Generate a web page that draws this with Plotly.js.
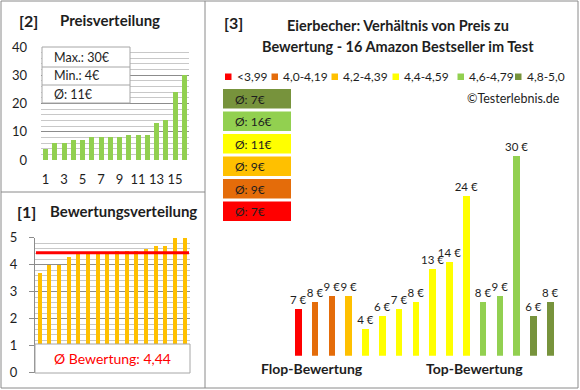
<!DOCTYPE html>
<html><head><meta charset="utf-8">
<script src="https://cdn.plot.ly/plotly-3.0.1.min.js"></script>
<style>html,body{margin:0;padding:0;background:#fff}</style>
</head><body><div id="chart" style="width:580px;height:390px"></div>
<script>
// ---- data ----
const ratings = [3.7,4.0,4.0,4.3,4.4,4.4,4.4,4.4,4.5,4.5,4.5,4.6,4.7,4.7,5.0,5.0];
const prices = [7,8,9,9,4,6,7,8,13,14,24,8,9,30,6,8];
const sortedPrices = [4,6,6,7,7,8,8,8,8,9,9,9,13,14,24,30];
const priceTickVals = [1,3,5,7,9,11,13,15];
const barClass = [0,1,1,2,3,3,3,3,3,3,3,4,4,4,5,5];
const classLabels = ['<3,99','4,0-4,19','4,2-4,39','4,4-4,59','4,6-4,79','4,8-5,0'];
const classColors = ['#FF0000','#E46C0A','#FFC000','#FFFF00','#92D050','#77933C'];
const classAvgPrice = [7,9,9,11,16,7];
const titleLine1 = 'Eierbecher: Verhältnis von Preis zu';
const titleLine2 = 'Bewertung - 16 Amazon Bestseller im Test';

// ---- helpers ----
const W=580,H=390;
const X = p=>p/W, Y = p=>1-p/H;
const FONT = 'Lato, "Open Sans", sans-serif';
const TXT = '#1e1e1e';
const idx = ratings.map((_,i)=>i+1);
const maxP = Math.max(...sortedPrices), minP = Math.min(...sortedPrices);
const avgP = Math.round(sortedPrices.reduce((a,b)=>a+b,0)/sortedPrices.length);
const avgR = ratings.reduce((a,b)=>a+b,0)/ratings.length;
const avgRtxt = avgR.toFixed(2).replace('.',',');

const traces = [
  {type:'bar', x:idx, y:sortedPrices, xaxis:'x', yaxis:'y', width:0.55,
   marker:{color:'#92D050'}, hoverinfo:'skip'},
  {type:'bar', x:idx, y:ratings, xaxis:'x2', yaxis:'y2', width:0.42,
   marker:{color:'#FFC000'}, hoverinfo:'skip'},
  {type:'bar', x:idx, y:prices, xaxis:'x3', yaxis:'y3', width:0.4,
   marker:{color:barClass.map(c=>classColors[c])},
   text:prices.map(v=>v+' €'), textposition:'outside', constraintext:'none',
   cliponaxis:false, textfont:{family:FONT, size:11.5, color:TXT}, hoverinfo:'skip'}
];

const shapes = [];
const ann = [];
const line = (x0,y0,x1,y1,c,w)=>shapes.push({type:'line',xref:'paper',yref:'paper',x0:X(x0),y0:Y(y0),x1:X(x1),y1:Y(y1),line:{color:c,width:w}});
const rect = (x0,y0,x1,y1,fill,lc,lw)=>shapes.push({type:'rect',xref:'paper',yref:'paper',x0:X(x0),y0:Y(y1),x1:X(x1),y1:Y(y0),fillcolor:fill,line:{color:lc,width:lw}});
const text = (t,x,y,opt={})=>ann.push(Object.assign({text:t,x:X(x),y:Y(y),xref:'paper',yref:'paper',showarrow:false,
   xanchor:'left',yanchor:'middle',font:{family:FONT,size:13,color:TXT}},opt));

// panel borders
rect(1,1,578,388,'rgba(0,0,0,0)','#8a8a8a',1);
line(205,1,205,388,'#8a8a8a',1);
line(1,192,205,192,'#8a8a8a',1);

// price box
rect(42,47,130,103,'#ffffff','#a6a6a6',1);
line(42,67,130,67,'#a6a6a6',1);
line(42,85,130,85,'#a6a6a6',1);
text('Max.: '+maxP+'€',52,57.5,{font:{family:FONT,size:12.5,color:TXT}});
text('Min.: '+minP+'€',52,76,{font:{family:FONT,size:12.5,color:TXT}});
text('Ø: '+avgP+'€',52,94,{font:{family:FONT,size:12.5,color:TXT}});

// red avg line + rating box
shapes.push({type:'line',xref:'x2',yref:'y2',x0:0.62,x1:16.45,y0:avgR,y1:avgR,line:{color:'#FF0000',width:3}});
rect(35,344,190,373,'#ffffff','#a6a6a6',1);
text('Ø Bewertung: '+avgRtxt,112,358,{xanchor:'center',font:{family:FONT,size:14,color:'#FF0000'}});

// panel titles
text('<b>[2]</b>',17,20,{font:{family:FONT,size:16,color:TXT}});
text('<b>Preisverteilung</b>',58,20,{font:{family:FONT,size:15,color:TXT}});
text('<b>[1]</b>',15,211,{font:{family:FONT,size:16,color:TXT}});
text('<b>Bewertungsverteilung</b>',48,211,{font:{family:FONT,size:15,color:TXT}});
text('<b>[3]</b>',222,22,{font:{family:FONT,size:16,color:TXT}});
text('<b>'+titleLine1+'</b>',398,26,{xanchor:'center',font:{family:FONT,size:14.5,color:TXT}});
text('<b>'+titleLine2+'</b>',398,46,{xanchor:'center',font:{family:FONT,size:14.5,color:TXT}});

// legend
const legSq = [225,271.5,331.5,392.5,457.5,515];
classLabels.forEach((l,i)=>{
  rect(legSq[i],73.5,legSq[i]+6.5,80,classColors[i],classColors[i],0);
  text(l,legSq[i]+9.5,77,{font:{family:FONT,size:12,color:TXT}});
});
text('©Testerlebnis.de',562,98,{xanchor:'right',font:{family:FONT,size:12.5,color:TXT}});

// average boxes (top = best class)
const boxTop = [89,111.5,134,156.5,179,201.5];
for(let k=0;k<6;k++){
  const c = 5-k;
  rect(223,boxTop[k],291,boxTop[k]+19.5,classColors[c],classColors[c],0);
  text('Ø: '+classAvgPrice[c]+'€',233,boxTop[k]+10,{font:{family:FONT,size:12,color:TXT}});
}

text('<b>Flop-Bewertung</b>',312,368,{xanchor:'center',font:{family:FONT,size:14,color:TXT}});
text('<b>Top-Bewertung</b>',474,368,{xanchor:'center',font:{family:FONT,size:14,color:TXT}});

const layout = {
  width:W, height:H, margin:{l:0,r:0,t:0,b:0},
  paper_bgcolor:'#ffffff', plot_bgcolor:'rgba(0,0,0,0)',
  showlegend:false, bargap:0,
  font:{family:FONT,size:13,color:TXT},
  xaxis:{domain:[X(41),X(189)], range:[0.5,16.5], anchor:'y', tickmode:'array', tickvals:priceTickVals,
    ticks:'', showgrid:false, zeroline:false, showline:false, ticklabelstandoff:10,
    tickfont:{family:FONT,size:13,color:TXT}, fixedrange:true},
  yaxis:{domain:[Y(160),Y(47)], range:[0,40], anchor:'x', dtick:10, tick0:0,
    gridcolor:'#8c8c8c', gridwidth:1, zeroline:false, showline:false, ticks:'',
    minor:{dtick:2, tick0:0, showgrid:true, gridcolor:'#c8c8c8', gridwidth:1},
    ticklabelstandoff:13, tickfont:{family:FONT,size:13,color:TXT}},
  xaxis2:{domain:[X(34.8),X(189.5)], range:[0.5,16.5], anchor:'y2', showticklabels:false,
    ticks:'', showgrid:false, zeroline:false, showline:false},
  yaxis2:{domain:[Y(372.7),Y(237.7)], range:[0,5], anchor:'x2', dtick:1, tick0:0,
    gridcolor:'#8c8c8c', gridwidth:1, zeroline:false, showline:true, linecolor:'#8c8c8c', linewidth:1,
    ticks:'outside', ticklen:5, tickcolor:'#8c8c8c',
    minor:{dtick:0.2, tick0:0, showgrid:true, gridcolor:'#c8c8c8', gridwidth:1},
    ticklabelstandoff:9, tickfont:{family:FONT,size:13,color:TXT}},
  xaxis3:{domain:[X(289.9),X(558.7)], range:[0.5,16.5], anchor:'y3', visible:false},
  yaxis3:{domain:[Y(355.7),Y(155.7)], range:[0,30], anchor:'x3', visible:false},
  shapes:shapes, annotations:ann
};
Plotly.newPlot('chart', traces, layout, {staticPlot:true, displayModeBar:false});
</script></body></html>
